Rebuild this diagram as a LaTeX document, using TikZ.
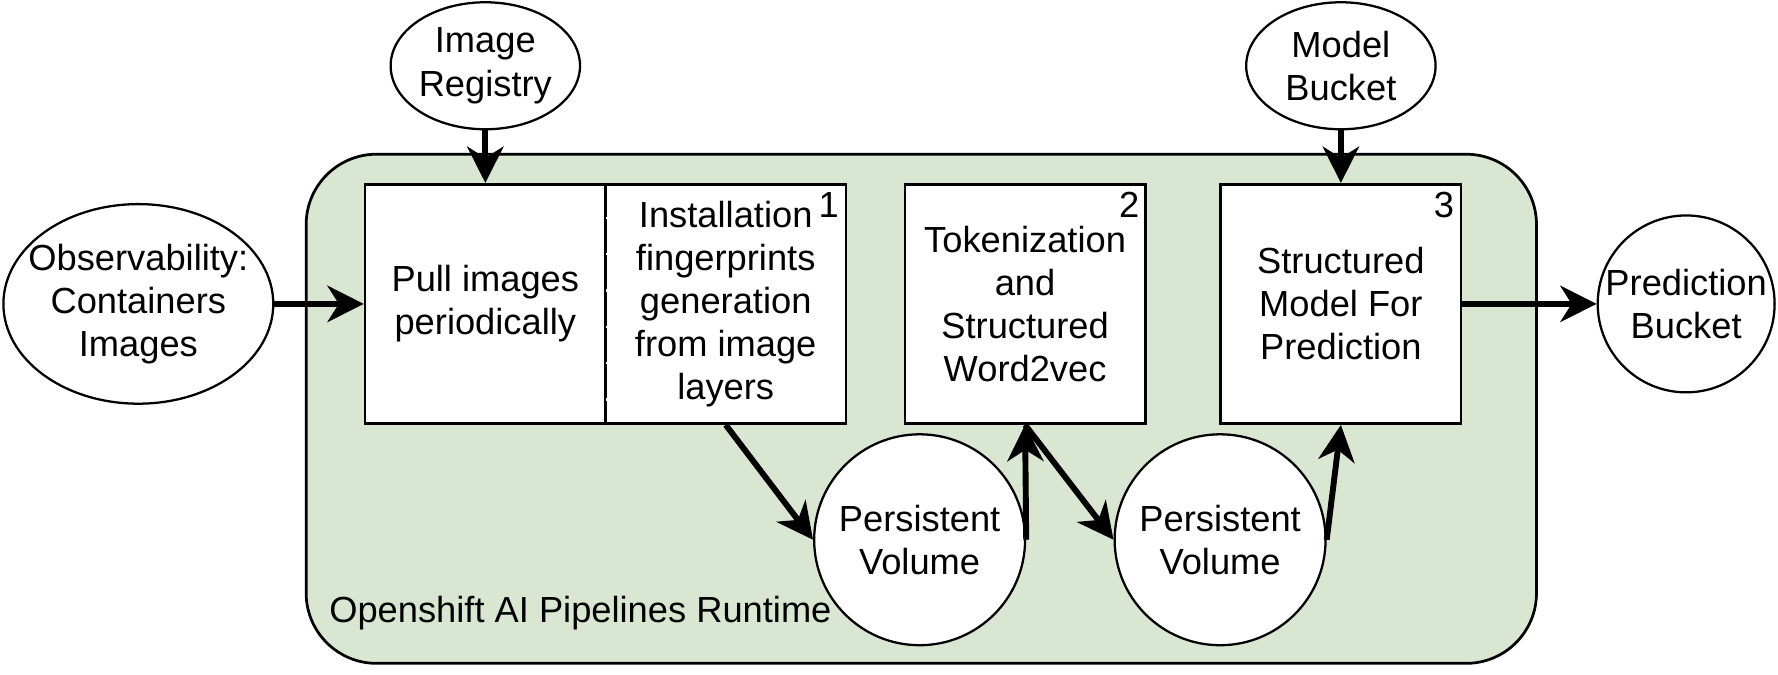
\documentclass[tikz,border=0pt]{standalone}
\usepackage{fontspec}
\setmainfont{Liberation Sans}
\usetikzlibrary{arrows.meta,positioning,shapes.geometric}
\definecolor{runtimegreen}{HTML}{D9E7D2}

\begin{document}
\begin{tikzpicture}
	[x=0.5pt, y=-0.5pt,
	 font=\fontsize{16}{19}\selectfont,
	 runtime/.style={rectangle,draw,line width=1.2pt,fill=runtimegreen,rounded corners=31pt},
	 stepbox/.style={rectangle,draw,line width=1.2pt,fill=white,align=center,
	                 minimum width=106pt,minimum height=105.5pt,inner sep=2pt},
	 store/.style={ellipse,draw,line width=1pt,fill=white,align=center,inner sep=-10pt},
	 volume/.style={circle,draw,line width=1pt,fill=white,align=center,inner sep=0pt,minimum size=93pt},
	 num/.style={inner sep=0pt},
	 arrow/.style={-{Stealth[length=16pt,width=16pt,inset=5pt]},line width=2.6pt}]

	\path [use as bounding box] (0,0) rectangle (1568,595);

	% runtime area
	\node[runtime,minimum width=542.5pt,minimum height=224.5pt] (runtime) at (812.5,360.5) {};
	\node[anchor=base west,inner sep=0pt] (runtimelabel) at (290,549) {Openshift AI Pipelines Runtime};

	% pipeline steps
	\node[stepbox] (pull)    at (428,268)    {Pull images\\periodically};
	\node[stepbox] (install) at (640,268)    {Installation\\fingerprints\\generation\\from image\\layers};
	\node[stepbox] (token)   at (904,268)    {Tokenization\\and\\Structured\\Word2vec};
	\node[stepbox] (model)   at (1182.5,268) {Structured\\Model For\\Prediction};

	\draw[white,line width=1.2pt,dash pattern=on 1pt off 15pt,dash phase=1pt]
		(pull.north east) -- (pull.south east);

	\node[num,below left=4pt and 3.5pt of install.north east] (num1) {1};
	\node[num,below left=4pt and 3pt of token.north east]     (num2) {2};
	\node[num,below left=4pt and 3.5pt of model.north east]   (num3) {3};

	% storage
	\node[store,minimum width=119pt,minimum height=88pt] (observe)  at (122,268)  {Observability:\\Containers\\Images};
	\node[store,minimum width=83.5pt,minimum height=56pt] (registry) at (428,58)  {Image\\Registry};
	\node[store,minimum width=83.5pt,minimum height=56pt] (bucket)   at (1182.5,58) {Model\\Bucket};
	\node[store,minimum width=78pt,minimum height=78pt]   (predict)  at (1487,268) {Prediction\\Bucket};
	\node[volume] (vol1) at (811,476)  {Persistent\\Volume};
	\node[volume] (vol2) at (1076,476) {Persistent\\Volume};

	\draw[arrow] (observe.east)   -- (pull.west);
	\draw[arrow] (registry.south) -- (pull.north);
	\draw[arrow] (bucket.south)   -- (model.north);
	\draw[arrow] (model.east)     -- (predict.west);

	\draw[arrow] (install.south) -- (vol1.west);
	\draw[arrow] (vol1.east)     -- (token.south);
	\draw[arrow] (token.south)   -- (vol2.west);
	\draw[arrow] (vol2.east)     -- (model.south);
\end{tikzpicture}
\end{document}
